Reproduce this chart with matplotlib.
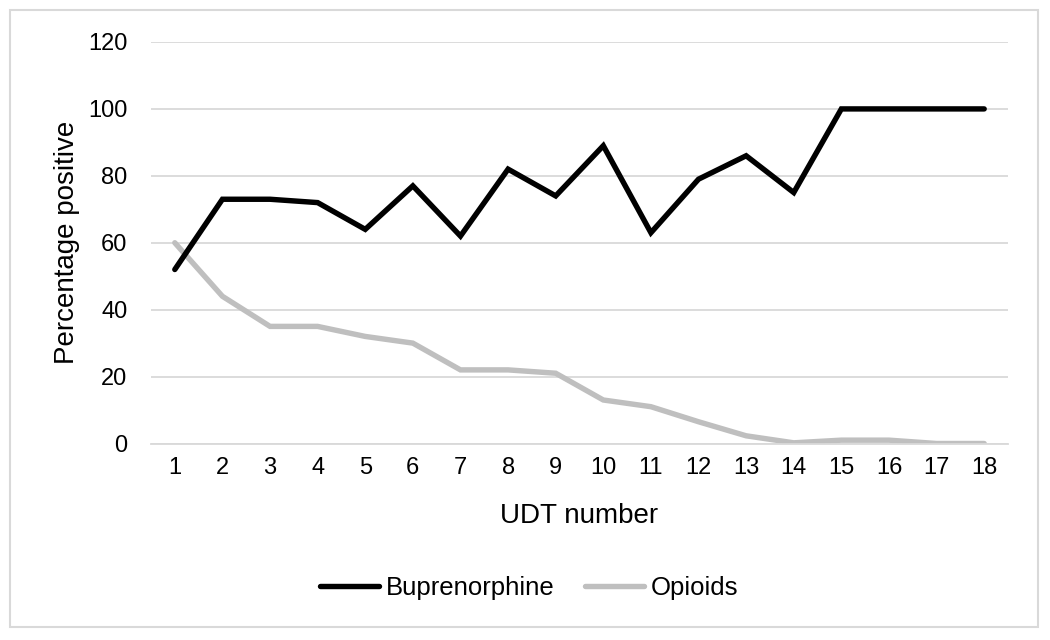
import numpy as np
import matplotlib
matplotlib.use('Agg')
import matplotlib.pyplot as plt
from matplotlib.patches import Rectangle

plt.rcParams['font.family'] = ['Liberation Sans', 'DejaVu Sans']

# UDT number vs percentage positive
udt = list(range(1, 19))
bup = [52, 73, 73, 72, 64, 77, 62, 82, 74, 89, 63, 79, 86, 75, 100, 100, 100, 100]
opi = [60, 44, 35, 35, 32, 30, 22, 22, 21, 13, 11, 6.5, 2.3, 0.2, 1, 1, 0, 0]
yticks = [0, 20, 40, 60, 80, 100, 120]

fig = plt.figure(figsize=(10.5, 6.4), dpi=100)
ax = fig.add_axes([151 / 1050, 196.5 / 640, 857 / 1050, 401.5 / 640])

ax.plot(udt, bup, color='black', lw=3.9, label='Buprenorphine',
        solid_capstyle='round', solid_joinstyle='miter', zorder=3)
ax.plot(udt, opi, color='#bfbfbf', lw=3.9, label='Opioids',
        solid_capstyle='round', solid_joinstyle='miter', zorder=2)

ax.set_xlim(0.5, 18.5)
ax.set_ylim(0, 120)
ax.set_xticks(udt)
ax.set_yticks(yticks)
ax.tick_params(axis='both', length=0, labelsize=17)
ax.tick_params(axis='y', pad=17)
ax.tick_params(axis='x', pad=10)
ax.yaxis.grid(True, color='#d9d9d9', lw=1.3)
ax.set_axisbelow(True)
for s in ['top', 'right', 'left']:
    ax.spines[s].set_visible(False)
ax.spines['bottom'].set_color('#d9d9d9')
ax.spines['bottom'].set_linewidth(1.3)

ax.set_xlabel('UDT number', fontsize=20, labelpad=17)
ax.set_ylabel('Percentage positive', fontsize=20, labelpad=6)

fig.legend(loc='center', bbox_to_anchor=(0.504, 0.081), ncol=2, frameon=False,
           fontsize=18.5, handlelength=2.3, handletextpad=0.25, columnspacing=1.2)

# light border around the chart area
fig.patches.append(Rectangle((10 / 1050, 13 / 640), 1028 / 1050, 617 / 640,
                             transform=fig.transFigure, fill=False,
                             edgecolor='#d9d9d9', lw=1.5))

plt.savefig('out.png', dpi=100)
